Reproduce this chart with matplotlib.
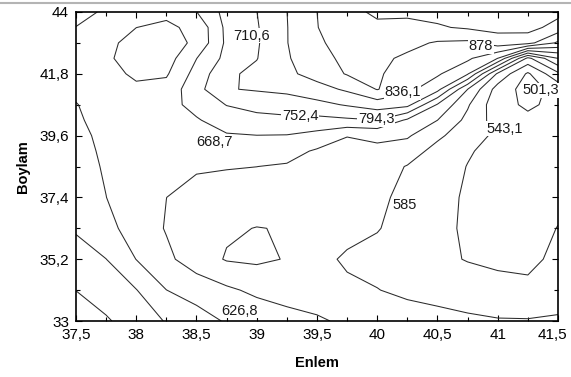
import numpy as np
import matplotlib
matplotlib.use("Agg")
import matplotlib.pyplot as plt
from matplotlib.lines import Line2D
from matplotlib.ticker import AutoMinorLocator
from matplotlib.transforms import ScaledTranslation

plt.rcParams['font.family'] = ['Liberation Sans', 'DejaVu Sans']

# grid (Enlem across, Boylam up)
enlem = [37.5, 37.75, 38.0, 38.25, 38.5, 38.75, 39.0, 39.25, 39.5,
         39.75, 40.0, 40.25, 40.5, 40.75, 41.0, 41.25, 41.5]
boylam = [33.0, 34.1, 35.2, 36.3, 37.4, 38.5, 39.05, 39.6, 40.15,
          40.7, 41.25, 41.8, 42.35, 42.9, 43.45, 44.0]

# one row per boylam value, bottom to top
degerler = [
    [770, 757, 733, 708, 686, 665, 655, 643, 632, 620, 612, 603, 597, 592, 588, 588, 590],
    [752, 733, 712, 669, 652, 634, 618, 608, 606, 592, 586, 577, 572, 565, 557, 548, 566],
    [729, 711, 668, 636, 605, 582, 578, 587, 595, 580, 573, 562, 552, 541, 535, 538, 548],
    [706, 680, 652, 624, 603, 590, 584, 587, 598, 596, 587, 571, 554, 537, 530, 530, 544],
    [690, 669, 647, 627, 608, 600, 606, 606, 605, 602, 592, 576, 556, 538, 528, 525, 535],
    [683, 665, 648, 640, 633, 630, 627, 623, 614, 610, 602, 583, 562, 542, 525, 520, 522],
    [680, 663, 650, 647, 645, 648, 647, 641, 622, 615, 619, 605, 571, 547, 530, 520, 520],
    [678, 660, 648, 655, 660, 665, 668, 667, 655, 628, 634, 632, 593, 561, 535, 520, 520],
    [672, 660, 645, 652, 665, 688, 697, 700, 699, 704, 710, 662, 627, 574, 525, 510, 522],
    [670, 654, 640, 654, 682, 712, 725, 733, 741, 756, 773, 765, 665, 590, 515, 495, 512],
    [662, 645, 632, 642, 696, 750, 756, 761, 778, 801, 838, 806, 766, 627, 525, 485, 515],
    [655, 636, 622, 622, 684, 745, 762, 785, 811, 839, 840, 822, 800, 757, 577, 495, 576],
    [655, 632, 612, 608, 668, 723, 751, 790, 823, 845, 845, 829, 815, 802, 752, 574, 669],
    [660, 635, 615, 608, 635, 719, 748, 793, 830, 852, 850, 847, 832, 828, 857, 850, 787],
    [668, 645, 627, 620, 636, 721, 749, 793, 835, 860, 871, 869, 874, 883, 890, 893, 862],
    [680, 664, 645, 635, 668, 725, 752, 794, 836, 868, 884, 884, 890, 893, 900, 905, 890],
]

seviyeler = [501.3, 543.1, 585.0, 626.8, 668.7, 710.6, 752.4, 794.3, 836.1, 878.0]
seviye_etiket = ["501,3", "543,1", "585", "626,8", "668,7", "710,6",
                 "752,4", "794,3", "836,1", "878"]
# where each level's label sits
etiket_yer = [(41.36, 41.22), (41.06, 39.84), (40.23, 37.13), (38.86, 33.36),
              (38.65, 39.36), (38.96, 43.16), (39.36, 40.30), (39.99, 40.19),
              (40.21, 41.14), (40.86, 42.79)]

x_ticks = [37.5, 38, 38.5, 39, 39.5, 40, 40.5, 41, 41.5]
x_tick_labels = ["37,5", "38", "38,5", "39", "39,5", "40", "40,5", "41", "41,5"]
y_ticks = [33, 35.2, 37.4, 39.6, 41.8, 44]
y_tick_labels = ["33", "35,2", "37,4", "39,6", "41,8", "44"]

fig = plt.figure(figsize=(5.71, 3.77), dpi=100)
ax = fig.add_axes([0.1331, 0.1485, 0.8441, 0.8197])

Z = np.array(degerler, dtype=float)
cs = ax.contour(enlem, boylam, Z, levels=seviyeler, colors='#2b2b2b', linewidths=0.75)

# contour labels, horizontal with a white box like the original
for lab, (xx, yy) in zip(seviye_etiket, etiket_yer):
    ax.text(xx, yy, lab, fontsize=10.5, color='#1a1a1a', ha='center', va='center',
            bbox=dict(facecolor='white', edgecolor='none', pad=0.4), zorder=4)

ax.set_xlim(37.5, 41.5)
ax.set_ylim(33, 44)
ax.set_xticks(x_ticks)
ax.set_xticklabels(x_tick_labels)
ax.set_yticks(y_ticks)
ax.set_yticklabels(y_tick_labels)
ax.xaxis.set_minor_locator(AutoMinorLocator(2))
ax.yaxis.set_minor_locator(AutoMinorLocator(2))
ax.tick_params(which='both', direction='in', top=True, right=True,
               labelsize=11, width=0.8, color='black')
ax.tick_params(which='major', length=4.5, pad=5)
ax.tick_params(which='minor', length=3)
for s in ax.spines.values():
    s.set_linewidth(1.2)

# keep the last x label inside the picture
son = ax.get_xticklabels()[-1]
son.set_transform(son.get_transform() + ScaledTranslation(-4 / 72, 0, fig.dpi_scale_trans))

ax.set_xlabel('Enlem', fontsize=10.5, fontweight='bold', labelpad=10)
ax.set_ylabel('Boylam', fontsize=10.5, fontweight='bold', labelpad=7)

fig.add_artist(Line2D([0, 1], [0.992, 0.992], transform=fig.transFigure,
                      color='#b4b4b4', lw=1.5))

fig.savefig('out.png', dpi=100)
